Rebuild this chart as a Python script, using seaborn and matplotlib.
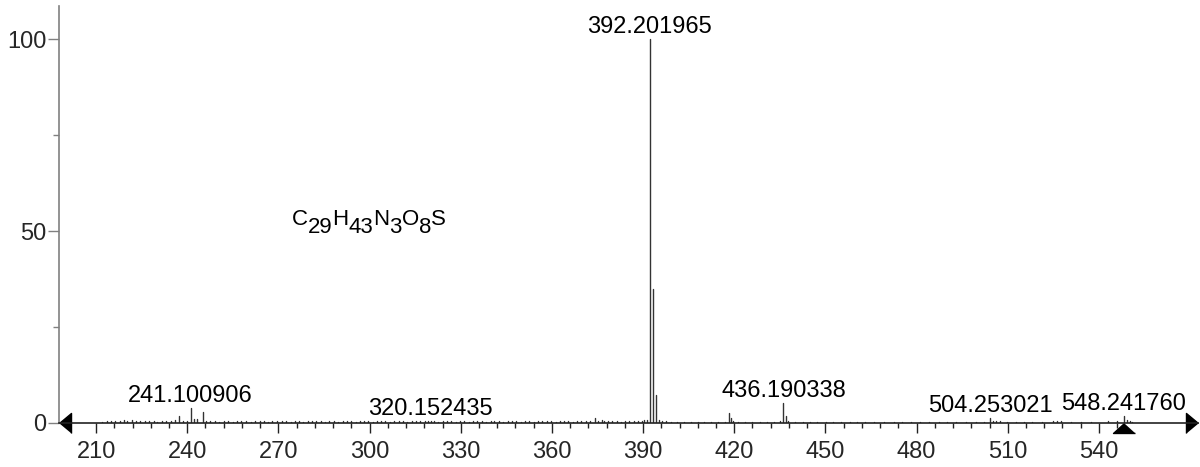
import pandas as pd
import matplotlib
matplotlib.use("Agg")
import matplotlib.pyplot as plt
from matplotlib.ticker import FixedLocator
import seaborn as sns

# fragment peaks (m/z, relative intensity %)
peak_mz = [237.3, 241.100906, 242.1, 243.1, 245.1, 320.152435, 374.3, 375.2,
           391.2, 392.201965, 393.2, 394.2, 395.2,
           418.2, 418.9, 419.6, 436.190338, 437.0, 437.8,
           504.253021, 505.3, 548.241760, 549.2, 550.2]
peak_int = [1.8, 3.8, 0.9, 1.0, 2.7, 0.4, 1.1, 0.5,
            0.6, 100.0, 35.0, 7.2, 0.8,
            2.4, 1.3, 0.5, 5.1, 1.8, 0.5,
            1.1, 0.4, 1.8, 0.8, 0.4]

# baseline noise
noise_mz = [212.1, 213.6, 215.0, 216.2, 217.9, 219.1, 220.3, 221.7, 223.0, 224.4,
            226.1, 227.5, 229.0, 230.2, 231.8, 233.1, 234.5, 235.9, 238.6, 239.8,
            246.3, 247.6, 249.0, 250.5, 252.1, 253.4, 255.0, 256.3, 257.8, 259.2,
            261.0, 262.4, 263.9, 265.1, 266.6, 268.0, 269.4, 271.1, 272.6, 274.0,
            275.3, 276.9, 278.2, 279.7, 281.1, 282.5, 284.0, 285.3, 286.8, 288.2,
            289.6, 291.1, 292.5, 293.8, 295.4, 296.9, 298.1, 299.6, 301.0, 302.5,
            303.9, 305.2, 306.8, 308.1, 309.6, 311.0, 312.4, 313.9, 315.2, 316.7,
            318.1, 319.3, 321.1, 322.6, 324.0, 325.5, 326.8, 328.3, 329.7, 331.2,
            332.6, 334.1, 335.4, 336.9, 338.3, 339.8, 341.1, 342.6, 344.0, 345.5,
            346.9, 348.2, 349.7, 351.1, 352.6, 354.0, 355.4, 356.9, 358.3, 359.6,
            361.2, 362.5, 364.0, 365.4, 366.9, 368.2, 369.7, 371.1, 372.5, 376.6,
            377.0, 378.4, 379.9, 381.3, 382.6, 384.1, 385.5, 386.9, 388.3, 389.6,
            390.4, 396.3, 397.5, 399.2, 401.3, 403.6, 405.8, 408.1, 410.2, 412.5,
            414.7, 416.9, 421.3, 423.6, 426.0, 428.4, 430.7, 433.1, 434.9, 440.1,
            442.5, 445.0, 447.3, 450.1, 452.6, 455.2, 458.0, 460.4, 463.1, 466.0,
            469.2, 472.5, 475.1, 478.3, 481.0, 484.2, 487.5, 490.1, 493.0, 496.2,
            499.5, 502.1, 506.2, 507.3, 509.8, 512.6, 515.4, 518.0, 521.2, 524.9,
            526.3, 527.6, 530.8, 534.2, 537.5, 543.1, 546.1, 551.0]
noise_int = [0.3, 0.4, 0.35, 0.55, 0.4, 0.6, 0.45, 0.7, 0.4, 0.5,
             0.35, 0.45, 0.4, 0.3, 0.5, 0.4, 0.35, 0.6, 0.55, 0.45,
             0.5, 0.4, 0.35, 0.3, 0.45, 0.4, 0.3, 0.4, 0.35, 0.5,
             0.3, 0.4, 0.35, 0.45, 0.3, 0.4, 0.35, 0.55, 0.4, 0.3,
             0.4, 0.35, 0.3, 0.45, 0.4, 0.35, 0.5, 0.3, 0.4, 0.35,
             0.3, 0.4, 0.35, 0.4, 0.3, 0.45, 0.35, 0.4, 0.3, 0.4,
             0.35, 0.4, 0.3, 0.45, 0.35, 0.4, 0.3, 0.4, 0.35, 0.45,
             0.4, 0.35, 0.4, 0.3, 0.45, 0.4, 0.35, 0.3, 0.4, 0.35,
             0.3, 0.4, 0.35, 0.4, 0.3, 0.55, 0.35, 0.4, 0.3, 0.4,
             0.35, 0.4, 0.3, 0.4, 0.35, 0.3, 0.45, 0.4, 0.35, 0.4,
             0.3, 0.4, 0.35, 0.4, 0.3, 0.4, 0.55, 0.35, 0.4, 0.6,
             0.4, 0.35, 0.45, 0.4, 0.3, 0.4, 0.35, 0.45, 0.4, 0.5,
             0.6, 0.55, 0.4, 0.3, 0.25, 0.3, 0.25, 0.3, 0.25, 0.3,
             0.25, 0.3, 0.3, 0.25, 0.3, 0.25, 0.3, 0.25, 0.35, 0.3,
             0.25, 0.3, 0.25, 0.3, 0.25, 0.3, 0.25, 0.3, 0.25, 0.3,
             0.25, 0.3, 0.25, 0.3, 0.25, 0.3, 0.25, 0.3, 0.25, 0.3,
             0.25, 0.3, 0.55, 0.4, 0.3, 0.25, 0.3, 0.25, 0.3, 0.35,
             0.4, 0.35, 0.25, 0.3, 0.25, 0.4, 0.4, 0.3]

label_mz = [241.100906, 320.152435, 392.201965, 436.190338, 504.253021, 548.241760]
precursor_mz = 548.241760
formula = [("C", False), ("29", True), ("H", False), ("43", True), ("N", False),
           ("3", True), ("O", False), ("8", True), ("S", False)]
x_ticks = [210, 240, 270, 300, 330, 360, 390, 420, 450, 480, 510, 540]
y_ticks = [0, 50, 100]

# one vertical stick per peak: (mz, 0) -> (mz, intensity)
all_mz = peak_mz + noise_mz
all_int = peak_int + noise_int
rows = []
for i, (mz, h) in enumerate(zip(all_mz, all_int)):
    rows.append({"peak": i, "mz": mz, "intensity": 0.0})
    rows.append({"peak": i, "mz": mz, "intensity": h})
df = pd.DataFrame(rows)
heights = dict(zip(all_mz, all_int))

sns.set_theme(style="white")
plt.rcParams["font.family"] = ["Liberation Sans", "DejaVu Sans"]

fig = plt.figure(figsize=(12, 4.67), dpi=100)
ax = fig.add_axes([59 / 1200, 1 - 422.7 / 467, (1198 - 59) / 1200, (422.7 - 6) / 467])

sns.lineplot(data=df, x="mz", y="intensity", units="peak", estimator=None,
             color="#333333", lw=1.0, ax=ax, legend=False)

ax.set_xlim(197.8, 572.6)
ax.set_ylim(0, 108.7)
ax.set_xlabel("")
ax.set_ylabel("")

for side in ["top", "right"]:
    ax.spines[side].set_visible(False)
ax.spines["left"].set_color("#808080")
ax.spines["left"].set_linewidth(1.2)
ax.spines["bottom"].set_color("#222222")
ax.spines["bottom"].set_linewidth(1.2)

ax.set_xticks(x_ticks)
ax.xaxis.set_minor_locator(FixedLocator([m for m in range(216, 547, 6) if m % 30]))
ax.set_yticks(y_ticks)
ax.yaxis.set_minor_locator(FixedLocator([25, 75]))
ax.tick_params(axis="x", which="major", direction="out", length=7.5, width=1,
               color="#222222", labelsize=17, pad=5.5, bottom=True)
ax.tick_params(axis="x", which="minor", direction="out", length=3.6, width=1,
               color="#222222", bottom=True)
ax.tick_params(axis="y", which="major", direction="out", length=8, width=1,
               color="#808080", labelsize=17, pad=1, left=True)
ax.tick_params(axis="y", which="minor", direction="out", length=4.3, width=1,
               color="#808080", left=True)

# arrow heads on the m/z axis and precursor marker
ax.plot([0], [0], marker=[(0, 0), (12, 10), (12, -10)], ms=17.3, color="black",
        transform=ax.transAxes, clip_on=False, lw=0)
ax.plot([1], [0], marker=[(0, 0), (-12, 10), (-12, -10)], ms=17.3, color="black",
        transform=ax.transAxes, clip_on=False, lw=0)
ax.plot([precursor_mz], [0], marker=[(0, 0), (-11, -10), (11, -10)], ms=15.8,
        color="black", clip_on=False, lw=0)

# peak labels
for mz in label_mz:
    ax.annotate(f"{mz:.6f}", xy=(mz, heights[mz]), xytext=(0, 4.5),
                textcoords="offset points", ha="center", va="baseline",
                fontsize=17, color="black")

# molecular formula with full-size, lowered subscripts
first = ax.text(274.4, 51.5, formula[0][0], fontsize=16, ha="left",
                va="baseline", color="black")
prev = first
for s, sub in formula[1:]:
    prev = ax.annotate(s, xy=(1, 0), xycoords=(prev, first),
                       xytext=(0, -5.5 if sub else 0), textcoords="offset points",
                       ha="left", va="bottom", fontsize=16, color="black")

fig.savefig("out.png", dpi=100)
